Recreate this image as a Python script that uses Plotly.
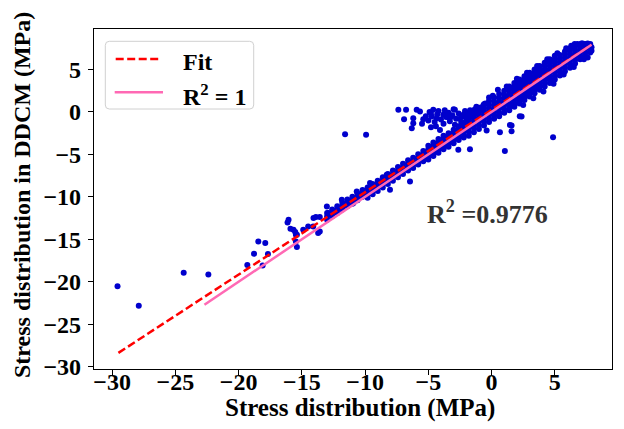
import plotly.graph_objects as go

# ---- data ----
band_x = [
    -13.0, -13.0, -13.0, -12.6, -12.6, -12.6, -12.2, -12.2, -12.2,
    -11.8, -11.8, -11.8, -11.4, -11.4, -11.4, -11.0, -11.0, -11.0,
    -10.6, -10.6, -10.6, -10.2, -10.2, -10.2,
    -9.8, -9.8, -9.8, -9.8, -9.4, -9.4, -9.4, -9.4, -9.0, -9.0, -9.0, -9.0,
    -8.6, -8.6, -8.6, -8.6, -8.2, -8.2, -8.2, -8.2, -7.8, -7.8, -7.8, -7.8,
    -7.4, -7.4, -7.4, -7.4, -7.0, -7.0, -7.0, -7.0, -6.6, -6.6, -6.6, -6.6,
    -6.2, -6.2, -6.2, -6.2, -5.8, -5.8, -5.8, -5.8, -5.4, -5.4, -5.4, -5.4,
    -5.0, -5.0, -5.0, -5.0, -5.0, -4.6, -4.6, -4.6, -4.6, -4.6,
    -4.2, -4.2, -4.2, -4.2, -4.2, -3.8, -3.8, -3.8, -3.8, -3.8,
    -3.4, -3.4, -3.4, -3.4, -3.4, -3.0, -3.0, -3.0, -3.0, -3.0,
    -2.6, -2.6, -2.6, -2.6, -2.6, -2.2, -2.2, -2.2, -2.2, -2.2,
    -1.8, -1.8, -1.8, -1.8, -1.8, -1.8, -1.8,
    -1.4, -1.4, -1.4, -1.4, -1.4, -1.4, -1.4,
    -1.0, -1.0, -1.0, -1.0, -1.0, -1.0, -1.0,
    -0.6, -0.6, -0.6, -0.6, -0.6, -0.6, -0.6,
    -0.2, -0.2, -0.2, -0.2, -0.2, -0.2, -0.2,
    0.2, 0.2, 0.2, 0.2, 0.2, 0.2, 0.2,
    0.6, 0.6, 0.6, 0.6, 0.6, 0.6, 0.6,
    1.0, 1.0, 1.0, 1.0, 1.0, 1.0, 1.0,
    1.4, 1.4, 1.4, 1.4, 1.4, 1.4, 1.4, 1.4,
    1.8, 1.8, 1.8, 1.8, 1.8, 1.8, 1.8, 1.8,
    2.2, 2.2, 2.2, 2.2, 2.2, 2.2, 2.2, 2.2,
    2.6, 2.6, 2.6, 2.6, 2.6, 2.6, 2.6, 2.6,
    3.0, 3.0, 3.0, 3.0, 3.0, 3.0, 3.0, 3.0,
    3.4, 3.4, 3.4, 3.4, 3.4, 3.4, 3.4, 3.4,
    3.8, 3.8, 3.8, 3.8, 3.8, 3.8, 3.8, 3.8,
    4.2, 4.2, 4.2, 4.2, 4.2, 4.2, 4.2, 4.2,
    4.6, 4.6, 4.6, 4.6, 4.6, 4.6, 4.6, 4.6,
    5.0, 5.0, 5.0, 5.0, 5.0, 5.0, 5.0, 5.0,
    5.4, 5.4, 5.4, 5.4, 5.4, 5.4, 5.4,
    5.8, 5.8, 5.8, 5.8, 5.8, 5.8, 5.8,
    6.2, 6.2, 6.2, 6.2, 6.2, 6.2, 6.2,
    6.6, 6.6, 6.6, 6.6, 6.6, 6.6,
    7.0, 7.0, 7.0, 7.0, 7.0,
    7.4, 7.4, 7.4, 7.4, 7.4,
    7.8, 7.8, 7.8, 7.8,
]
band_y = [
    -12.7, -12.3, -11.9, -12.3, -11.9, -11.5, -11.9, -11.5, -11.1,
    -11.5, -11.1, -10.7, -11.1, -10.7, -10.3, -10.8, -10.4, -10.0,
    -10.4, -10.0, -9.6, -10.0, -9.6, -9.2,
    -10.1, -9.7, -9.3, -8.9, -9.7, -9.3, -8.9, -8.5, -9.3, -8.9, -8.5, -8.1,
    -8.9, -8.5, -8.1, -7.7, -8.5, -8.1, -7.7, -7.3, -8.1, -7.7, -7.3, -6.9,
    -7.7, -7.3, -6.9, -6.5, -7.3, -6.9, -6.5, -6.1, -6.9, -6.5, -6.1, -5.7,
    -6.6, -6.2, -5.8, -5.4, -6.2, -5.8, -5.4, -5.0, -5.8, -5.4, -5.0, -4.6,
    -5.6, -5.2, -4.8, -4.4, -4.0, -5.2, -4.8, -4.4, -4.0, -3.6,
    -4.8, -4.4, -4.0, -3.6, -3.2, -4.4, -4.0, -3.6, -3.2, -2.8,
    -4.1, -3.7, -3.3, -2.9, -2.5, -3.7, -3.3, -2.9, -2.5, -2.1,
    -3.3, -2.9, -2.5, -2.1, -1.7, -3.0, -2.6, -2.1, -1.7, -1.3,
    -2.8, -2.3, -1.9, -1.5, -1.1, -0.6, -0.2,
    -2.4, -1.9, -1.5, -1.1, -0.7, -0.2, 0.2,
    -2.0, -1.6, -1.1, -0.7, -0.3, 0.2, 0.5,
    -1.6, -1.2, -0.8, -0.3, 0.1, 0.5, 0.9,
    -1.2, -0.8, -0.4, 0.0, 0.4, 0.8, 1.3,
    -0.8, -0.4, 0.0, 0.4, 0.8, 1.2, 1.7,
    -0.5, -0.1, 0.4, 0.8, 1.2, 1.6, 2.1,
    -0.1, 0.3, 0.8, 1.2, 1.6, 2.0, 2.5,
    0.2, 0.6, 1.0, 1.4, 1.8, 2.2, 2.6, 3.0,
    0.6, 1.0, 1.4, 1.8, 2.2, 2.6, 3.0, 3.4,
    1.0, 1.4, 1.8, 2.2, 2.6, 3.0, 3.4, 3.8,
    1.4, 1.8, 2.2, 2.6, 3.0, 3.4, 3.8, 4.2,
    1.8, 2.2, 2.6, 3.0, 3.4, 3.8, 4.2, 4.6,
    2.2, 2.6, 3.0, 3.4, 3.8, 4.2, 4.6, 5.0,
    2.6, 3.0, 3.4, 3.8, 4.2, 4.6, 5.0, 5.4,
    3.0, 3.4, 3.8, 4.2, 4.6, 5.0, 5.4, 5.8,
    3.4, 3.8, 4.2, 4.6, 5.0, 5.4, 5.8, 6.2,
    3.8, 4.2, 4.6, 5.0, 5.4, 5.8, 6.2, 6.6,
    4.3, 4.7, 5.1, 5.5, 5.9, 6.3, 6.7,
    4.8, 5.2, 5.6, 6.0, 6.4, 6.8, 7.1,
    5.2, 5.6, 6.0, 6.4, 6.8, 7.2, 7.5,
    5.7, 6.1, 6.5, 6.9, 7.3, 7.7,
    6.2, 6.6, 7.0, 7.4, 7.8,
    6.6, 7.0, 7.4, 7.8, 8.0,
    7.0, 7.4, 7.8, 8.0,
]

# ragged fringe of the band and the horizontal spray near y = 0
fringe_x = [0.5, 1.2, 2.0, 2.8, 3.6, 4.4, 5.2, 5.9, 6.3, 2.5, 3.3, 4.1, 4.9, 5.7, 6.5,
            7.3, 7.9, 6.8, 7.2, 7.6, -0.2, -1.2,
            -5.2, -5.0, -4.8, -4.5, -4.3, -4.0, -3.8, -3.6, -3.4, -3.3, -3.1, -2.9,
            -2.8, -2.6, -2.4, -2.3, -2.1, -2.0, -1.9, -1.7, -1.5, -1.3, -1.1, -0.9,
            -4.9, -4.2, -3.7, -5.5, -3.0, -2.6, -4.4]
fringe_y = [2.6, 3.0, 3.9, 4.6, 5.4, 6.2, 6.9, 7.5, 7.8, 0.8, 1.6, 2.4, 3.3, 4.4, 5.3,
            6.2, 7.2, 8.0, 8.05, 6.4, 1.7, 0.6,
            -0.5, -1.0, -0.2, -1.2, -0.3, -0.9, -1.4, -0.6, -0.1, -1.1, -0.4, -1.5,
            -0.8, -0.2, -1.2, -0.5, 0.1, -0.9, -0.3, 0.2, -0.6, 0.3, -0.2, 0.5,
            0.0, 0.1, 0.2, -1.4, 0.3, -1.8, -1.7]

# isolated points / outliers
out_x = [-29.57, -27.89, -24.34, -22.39, -19.31, -18.78, -18.44, -17.89, -17.68, -18.10,
         -16.13, -15.90, -15.52, -15.47, -15.39, -15.47, -14.89, -14.50, -14.10, -13.89,
         -13.58, -13.71, -13.58, -16.05, -15.66, -15.39, -14.08, -13.02, -12.90, -11.84,
         -10.92, -10.66, -9.61, -9.08, -8.29, -8.03, -7.24, -6.45, -6.19,
         -11.58, -9.92,
         -7.37, -6.76, -5.92, -5.66, -6.92, -6.19, -6.19, -5.40, -6.31, -4.61,
         -4.74, -4.34, -4.08, -3.82, -2.90, -3.43, -2.50, -1.71, -0.92, -0.66,
         -4.79, -3.60, -3.20, -2.20, -1.30,
         4.86, 1.05, -1.71, -2.63, 1.58, 1.58, 2.23, 1.45, 2.37, -0.39, 0.66,
         6.57, 7.10, 7.60, 7.90, 4.86, 3.55, 1.84, 0.10, -0.50]
out_y = [-20.54, -22.81, -18.93, -19.13, -18.03, -16.70, -15.25, -15.44, -16.73, -18.07,
         -13.01, -13.76, -14.15, -14.46, -15.91, -15.25, -13.87, -13.48, -13.48, -12.38,
         -12.38, -14.26, -14.07, -12.70, -13.87, -14.46, -12.50, -11.13, -11.91, -10.35,
         -10.74, -9.37, -8.38, -8.78, -7.41, -9.17, -6.82, -8.19, -6.03,
         -2.62, -2.70,
         0.24, 0.24, 0.24, 0.04, -0.86, -0.74, -1.33, -0.86, -1.92, 0.24,
         -0.55, -0.74, -2.12, -0.35, 0.24, -0.62, -0.82, -0.43, 0.16, 0.74,
         -1.80, -0.20, -0.60, -0.30, 0.10,
         -2.98, -4.59, -4.39, -4.47, -1.61, -2.27, -0.51, -1.53, -0.55, -2.20, -2.39,
         8.00, 8.05, 8.05, 7.60, 6.03, 4.67, 3.29, 1.90, 1.00]

fit_x = [-29.5, 7.9]
fit_y = [-28.37, 7.91]
ideal_x = [-22.7, 7.9]
ideal_y = [-22.7, 7.9]

x_ticks = [-30, -25, -20, -15, -10, -5, 0, 5]
y_ticks = [-30, -25, -20, -15, -10, -5, 0, 5]
legend_names = ["Fit", "R<sup>2</sup> = 1"]
r2_text = "R<sup>2</sup> =0.9776"

FONT = "Liberation Serif"
BLUE = "#0000CD"
RED = "red"
PINK = "#FF69B4"
DASH = "8px,3.5px"

# page body has an 8px margin: the plot area lands at screen px 94..612 x 29..369
W, H = 616, 421
ML, MR, MT, MB = 86, 12, 21, 60
PW, PH = W - ML - MR, H - MT - MB


def px(xs):  # screen px -> paper x
    return (xs - 94) / PW


def py(ys):  # screen px -> paper y
    return (369 - ys) / PH


fig = go.Figure()
fig.add_trace(go.Scatter(x=band_x + fringe_x + out_x, y=band_y + fringe_y + out_y,
                         mode="markers",
                         marker=dict(color=BLUE, size=6, line=dict(width=0)),
                         showlegend=False, hoverinfo="skip"))
fig.add_trace(go.Scatter(x=fit_x, y=fit_y, mode="lines", name=legend_names[0],
                         showlegend=False,
                         line=dict(color=RED, width=2.5, dash=DASH)))
fig.add_trace(go.Scatter(x=ideal_x, y=ideal_y, mode="lines", name=legend_names[1],
                         showlegend=False,
                         line=dict(color=PINK, width=2.5)))

axis_common = dict(showgrid=False, zeroline=False, showline=True, linecolor="black",
                   linewidth=1.2, mirror=True, ticks="outside", ticklen=5, tickwidth=1,
                   tickcolor="black",
                   tickfont=dict(family=FONT, size=24, color="black", weight="bold"))
fig.update_xaxes(range=[-31.43, 9.52], tickvals=x_ticks, ticklabelstandoff=-14,
                 **axis_common)
fig.update_yaxes(range=[-30.27, 9.76], tickvals=y_ticks, ticklabelstandoff=2,
                 **axis_common)

# R^2 annotation
fig.add_annotation(x=-5.3, y=-11.9, xref="x", yref="y", text=r2_text, showarrow=False,
                   xanchor="left", yanchor="middle",
                   font=dict(family=FONT, size=26, color="#333333", weight="bold"))
# axis titles
fig.add_annotation(x=px(359.5), y=py(408), xref="paper", yref="paper",
                   text="Stress distribution (MPa)", showarrow=False,
                   xanchor="center", yanchor="middle",
                   font=dict(family=FONT, size=25, color="black", weight="bold"))
fig.add_annotation(x=px(22), y=py(195), xref="paper", yref="paper",
                   text="Stress distribution in DDCM (MPa)", showarrow=False, textangle=-90,
                   xanchor="center", yanchor="middle",
                   font=dict(family=FONT, size=24, color="black", weight="bold"))

# legend box (matplotlib style, rounded corners)
bx0, bx1, by0, by1, r = 105.3, 253.7, 41.3, 109.0, 4.0
path = (f"M {px(bx0 + r)} {py(by0)} L {px(bx1 - r)} {py(by0)} "
        f"Q {px(bx1)} {py(by0)} {px(bx1)} {py(by0 + r)} "
        f"L {px(bx1)} {py(by1 - r)} Q {px(bx1)} {py(by1)} {px(bx1 - r)} {py(by1)} "
        f"L {px(bx0 + r)} {py(by1)} Q {px(bx0)} {py(by1)} {px(bx0)} {py(by1 - r)} "
        f"L {px(bx0)} {py(by0 + r)} Q {px(bx0)} {py(by0)} {px(bx0 + r)} {py(by0)} Z")
fig.add_shape(type="path", path=path, xref="paper", yref="paper",
              fillcolor="rgba(255,255,255,0.8)", line=dict(color="#D0D0D0", width=1))
fig.add_shape(type="line", xref="paper", yref="paper",
              x0=px(115.7), x1=px(161.3), y0=py(59), y1=py(59),
              line=dict(color=RED, width=2.5, dash=DASH))
fig.add_shape(type="line", xref="paper", yref="paper",
              x0=px(114.7), x1=px(163), y0=py(92.3), y1=py(92.3),
              line=dict(color=PINK, width=2.5))
for name, yc in zip(legend_names, [61.5, 95.5]):
    fig.add_annotation(x=px(181.3), y=py(yc), xref="paper", yref="paper", text=name,
                       showarrow=False, xanchor="left", yanchor="middle",
                       font=dict(family=FONT, size=24, color="black", weight="bold"))

fig.update_layout(
    width=W, height=H,
    margin=dict(l=ML, r=MR, t=MT, b=MB),
    paper_bgcolor="white", plot_bgcolor="white",
    font=dict(family=FONT, color="black"),
    showlegend=False,
)

fig.write_html("out.html")
